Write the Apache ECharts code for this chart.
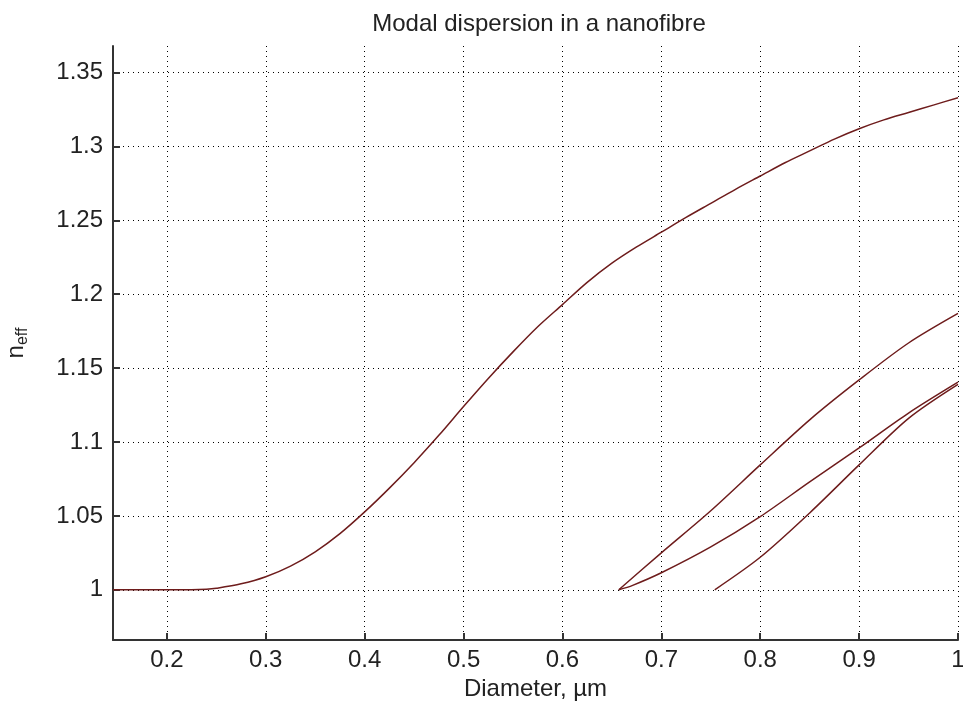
<!DOCTYPE html>
<html>
<head>
<meta charset="utf-8">
<script src="https://cdn.jsdelivr.net/npm/echarts@6/dist/echarts.min.js"></script>
<style>
  html, body { margin: 0; padding: 0; background: #fff; }
  #chart { width: 963px; height: 705px; }
</style>
</head>
<body>
<div id="chart"></div>
<script>
// Effective index of guided modes versus fibre diameter (µm)
const fundamentalX = [0.1455, 0.2, 0.225, 0.24, 0.25, 0.275, 0.3, 0.325, 0.35, 0.375, 0.4, 0.425, 0.45, 0.475, 0.5, 0.525, 0.55, 0.575, 0.6, 0.625, 0.65, 0.675, 0.7, 0.725, 0.75, 0.775, 0.8, 0.825, 0.85, 0.875, 0.9, 0.925, 0.95, 0.975, 1.0];
const fundamentalN = [1.0, 1.0, 1.0, 1.0003, 1.001, 1.004, 1.0088, 1.016, 1.0257, 1.038, 1.0527, 1.0688, 1.086, 1.1045, 1.124, 1.143, 1.161, 1.178, 1.193, 1.208, 1.221, 1.232, 1.242, 1.252, 1.2615, 1.271, 1.280, 1.289, 1.297, 1.305, 1.312, 1.318, 1.323, 1.328, 1.333];

const mode2X = [0.657, 0.7, 0.75, 0.8, 0.85, 0.9, 0.95, 1.0];
const mode2N = [1.0, 1.025, 1.0535, 1.0845, 1.115, 1.142, 1.167, 1.187];

const mode3X = [0.657, 0.671, 0.7, 0.75, 0.8, 0.85, 0.9, 0.95, 1.0];
const mode3N = [1.0, 1.003, 1.0115, 1.029, 1.0495, 1.073, 1.096, 1.1196, 1.1405];

const mode4X = [0.754, 0.8, 0.85, 0.9, 0.95, 1.0];
const mode4N = [1.0, 1.022, 1.052, 1.0845, 1.116, 1.139];

const xTicks = [0.2, 0.3, 0.4, 0.5, 0.6, 0.7, 0.8, 0.9, 1];
const yTicks = [1, 1.05, 1.1, 1.15, 1.2, 1.25, 1.3, 1.35];

const lineColor = '#6e1c1c';
const textColor = '#222';
const pairs = (xs, ys) => xs.map((x, i) => [x, ys[i]]);
const fontFamily = '"Liberation Sans", Arial, sans-serif';

function curve(xs, ys) {
  return {
    type: 'line',
    data: pairs(xs, ys),
    smooth: 0.3,
    showSymbol: false,
    lineStyle: { color: lineColor, width: 1.5 },
    animation: false
  };
}

const chart = echarts.init(document.getElementById('chart'), null, { renderer: 'canvas' });
chart.setOption({
  backgroundColor: '#ffffff',
  animation: false,
  title: {
    text: 'Modal dispersion in a nanofibre',
    left: 534, top: 7, textAlign: 'center',
    textStyle: { fontFamily, fontSize: 24, fontWeight: 'normal', color: textColor }
  },
  grid: { left: 113, right: 5, top: 46, bottom: 65, containLabel: false, outerBoundsMode: 'none' },
  xAxis: {
    type: 'value', min: 0.1455, max: 1,
    name: 'Diameter, µm', nameLocation: 'middle', nameGap: 37,
    nameTextStyle: { fontFamily, fontSize: 24, color: textColor },
    axisLine: { onZero: false, lineStyle: { color: '#333', width: 2 } },
    axisTick: { inside: true, length: 7, customValues: xTicks, lineStyle: { color: '#333', width: 2 } },
    axisLabel: { customValues: xTicks, fontFamily, fontSize: 24, color: textColor, margin: 8,
      formatter: v => String(+v.toFixed(2)) },
    splitLine: { show: true, lineStyle: { color: '#000', type: [1, 4], width: 1 } }
  },
  yAxis: {
    type: 'value', min: 0.966, max: 1.368,
    name: '{n|n}{s|eff}', nameLocation: 'middle', nameGap: 82,
    nameTextStyle: { fontFamily, fontSize: 24, color: textColor,
      rich: { n: { fontFamily, fontSize: 24, color: textColor }, s: { fontFamily, fontSize: 16, color: textColor, padding: [14, 0, 0, 0] } } },
    axisLine: { onZero: false, lineStyle: { color: '#333', width: 2 } },
    axisTick: { inside: true, length: 7, customValues: yTicks, lineStyle: { color: '#333', width: 2 } },
    axisLabel: { customValues: yTicks, fontFamily, fontSize: 24, color: textColor, margin: 10,
      formatter: v => String(+v.toFixed(2)) },
    splitLine: { show: true, lineStyle: { color: '#000', type: [1, 4], width: 1 } }
  },
  series: [
    curve(fundamentalX, fundamentalN),
    curve(mode2X, mode2N),
    curve(mode3X, mode3N),
    curve(mode4X, mode4N)
  ]
});
</script>
</body>
</html>
